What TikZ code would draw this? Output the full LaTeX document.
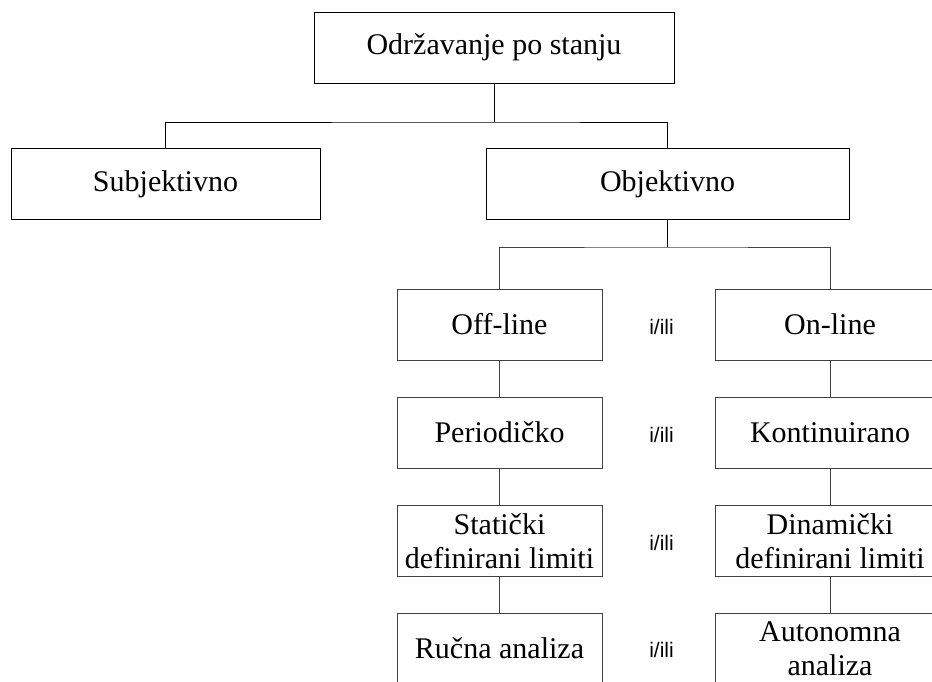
\documentclass[tikz,border=0pt]{standalone}
\usepackage{fontspec}
\setmainfont{Liberation Serif}
\newfontfamily\isans{Liberation Sans}
\begin{document}
\begin{tikzpicture}[x=1pt,y=-1pt,
  box/.style={draw=black, line width=1pt, minimum height=71pt, inner sep=0pt, align=center,
    font=\fontsize{30}{34}\selectfont},
  lbox/.style={box, draw=black!75},
  conn/.style={draw=black, line width=1pt},
  lconn/.style={draw=black!75, line width=1pt},
  orlab/.style={font=\isans\fontsize{21}{24}\selectfont, inner sep=0pt}]
\useasboundingbox (0,0) rectangle (932,681);
\clip (0,0) rectangle (932,681);
\node[box, minimum width=360pt] (top) at (494,47.5) {Održavanje po stanju};
\node[box, minimum width=309pt] (subj) at (165.5,184) {Subjektivno};
\node[box, minimum width=363pt] (obj) at (667.5,184) {Objektivno};
\coordinate (j1) at (494,122);
\coordinate (j2) at (667.5,247);
\draw[conn] (top.south) -- (j1);
\draw[conn] (subj.north) |- (j1) -| (obj.north);
\draw[conn] (obj.south) -- (j2);
% left column
\node[lbox, minimum width=205pt] (off) at (499.5,324.5) {Off-line};
\node[lbox, minimum width=205pt] (per) at (499.5,432.5) {Periodičko};
\node[lbox, minimum width=205pt] (sta) at (499.5,541) {Statički\\definirani limiti};
\node[lbox, minimum width=205pt] (ruc) at (499.5,648.5) {Ručna analiza};
% right column
\node[lbox, minimum width=230pt] (on) at (830,324.5) {On-line};
\node[lbox, minimum width=230pt] (kon) at (830,432.5) {Kontinuirano};
\node[lbox, minimum width=230pt] (din) at (830,541) {Dinamički\\definirani limiti};
\node[lbox, minimum width=230pt] (aut) at (830,648.5) {Autonomna\\analiza};
\draw[lconn] (off.north) |- (j2) -| (on.north);
\draw[lconn] (off) -- (per);
\draw[lconn] (per) -- (sta);
\draw[lconn] (sta) -- (ruc);
\draw[lconn] (on) -- (kon);
\draw[lconn] (kon) -- (din);
\draw[lconn] (din) -- (aut);
% i/ili labels
\node[orlab] (o1) at (661.5,327) {i/ili};
\node[orlab] (o2) at (661.5,435) {i/ili};
\node[orlab] (o3) at (661.5,543) {i/ili};
\node[orlab] (o4) at (661.5,650) {i/ili};
\end{tikzpicture}
\end{document}
